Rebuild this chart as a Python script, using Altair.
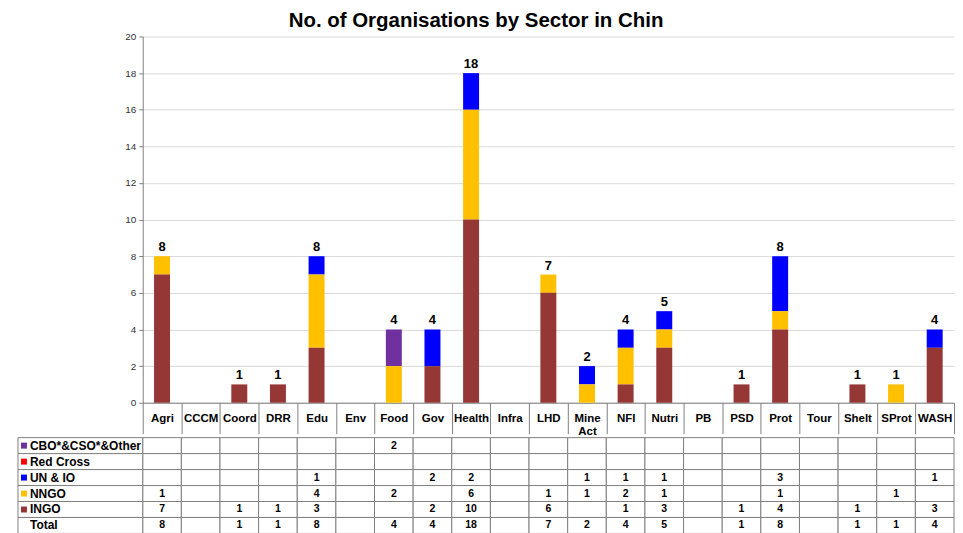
import altair as alt
import pandas as pd

categories = ["Agri", "CCCM", "Coord", "DRR", "Edu", "Env", "Food", "Gov", "Health", "Infra",
              "LHD", "Mine Act", "NFI", "Nutri", "PB", "PSD", "Prot", "Tour", "Shelt", "SProt", "WASH"]
series_names = ["CBO*&CSO*&Other", "Red Cross", "UN & IO", "NNGO", "INGO"]
series_colors = ["#7030A0", "#FF0000", "#0000FF", "#FFC000", "#953735"]

cbo =       [0, 0, 0, 0, 0, 0, 2, 0, 0, 0, 0, 0, 0, 0, 0, 0, 0, 0, 0, 0, 0]
red_cross = [0, 0, 0, 0, 0, 0, 0, 0, 0, 0, 0, 0, 0, 0, 0, 0, 0, 0, 0, 0, 0]
un_io =     [0, 0, 0, 0, 1, 0, 0, 2, 2, 0, 0, 1, 1, 1, 0, 0, 3, 0, 0, 0, 1]
nngo =      [1, 0, 0, 0, 4, 0, 2, 0, 6, 0, 1, 1, 2, 1, 0, 0, 1, 0, 0, 1, 0]
ingo =      [7, 0, 1, 1, 3, 0, 0, 2, 10, 0, 6, 0, 1, 3, 0, 1, 4, 0, 1, 0, 3]
totals =    [8, 0, 1, 1, 8, 0, 4, 4, 18, 0, 7, 2, 4, 5, 0, 1, 8, 0, 1, 1, 4]

y_ticks = [0, 2, 4, 6, 8, 10, 12, 14, 16, 18, 20]
table_rows = series_names + ["Total"]

FONT = "Liberation Sans"
GRID = "#808080"

series_values = {"CBO*&CSO*&Other": cbo, "Red Cross": red_cross, "UN & IO": un_io,
                 "NNGO": nngo, "INGO": ingo}
stack_rank = {"INGO": 0, "NNGO": 1, "UN & IO": 2, "Red Cross": 3, "CBO*&CSO*&Other": 4}

bar_rows = []
for s in series_names:
    for c, v in zip(categories, series_values[s]):
        if v > 0:
            bar_rows.append({"cat": c, "series": s, "value": v, "rank": stack_rank[s]})
bars_df = pd.DataFrame(bar_rows)

tot_df = pd.DataFrame({"cat": categories, "total": totals})
tot_df = tot_df[tot_df["total"] > 0]

cell_rows = []
for r in table_rows:
    vals = totals if r == "Total" else series_values[r]
    for c, v in zip(categories, vals):
        cell_rows.append({"cat": c, "row": r, "txt": str(v) if v > 0 else ""})
cells_df = pd.DataFrame(cell_rows)
label_df = pd.DataFrame({"row": table_rows})
square_df = pd.DataFrame({"row": series_names})

xscale = alt.Scale(domain=categories, paddingInner=0, paddingOuter=0)
yscale = alt.Scale(domain=[0, 20])
color_scale = alt.Scale(domain=series_names, range=series_colors)

W = 813
H = 367

x_axis = alt.Axis(
    title=None, tickBand="extent", tickSize=31, tickColor=GRID, domainColor=GRID,
    labelPadding=-15.5, labelBaseline="middle", labelAngle=0, labelOverlap=False,
    labelFont=FONT, labelFontSize=11.5, labelFontWeight="bold", labelColor="black",
    labelLineHeight=13,
    labelExpr="datum.label == 'Mine Act' ? ['Mine', 'Act'] : datum.label",
)
y_axis = alt.Axis(
    title=None, values=y_ticks, tickCount=len(y_ticks) + 1, tickSize=4, tickColor=GRID,
    domainColor=GRID, gridColor="#d9d9d9", labelFont=FONT, labelFontSize=10,
    labelColor="#333333", labelPadding=3, labelOverlap=False,
)

bars = alt.Chart(bars_df).mark_bar(size=16).encode(
    x=alt.X("cat:N", scale=xscale, sort=categories, axis=x_axis),
    y=alt.Y("value:Q", stack="zero", scale=yscale, axis=y_axis),
    color=alt.Color("series:N", scale=color_scale, legend=None),
    order=alt.Order("rank:Q"),
)
labels = alt.Chart(tot_df).mark_text(
    dy=-2, baseline="bottom", font=FONT, fontSize=13, fontWeight="bold", color="black"
).encode(
    x=alt.X("cat:N", scale=xscale, sort=categories, axis=x_axis),
    y=alt.Y("total:Q", scale=yscale, axis=y_axis),
    text="total:Q",
)
top = alt.layer(bars, labels).properties(width=W, height=H)

yrow = alt.Y("row:N", sort=table_rows, scale=alt.Scale(domain=table_rows, paddingInner=0, paddingOuter=0), axis=None)
xcat = alt.X("cat:N", scale=xscale, sort=categories, axis=None)

cell_rect = alt.Chart(cells_df).mark_rect(fill="white", stroke=GRID, strokeWidth=1).encode(x=xcat, y=yrow)
cell_txt = alt.Chart(cells_df).mark_text(
    font=FONT, fontSize=10.5, fontWeight="bold", color="black", baseline="middle"
).encode(x=xcat, y=yrow, text="txt:N")
lab_rect = alt.Chart(label_df).mark_rect(fill="white", stroke=GRID, strokeWidth=1).encode(
    x=alt.value(-125), x2=alt.value(0), y=yrow)
lab_txt = alt.Chart(label_df).mark_text(
    font=FONT, fontSize=12, fontWeight="bold", color="black", align="left", baseline="middle"
).encode(x=alt.value(-113), y=yrow, text="row:N")
lab_sq = alt.Chart(square_df).mark_square(size=36, opacity=1).encode(
    x=alt.value(-119), y=yrow,
    color=alt.Color("row:N", scale=color_scale, legend=None),
)
table = alt.layer(cell_rect, cell_txt, lab_rect, lab_txt, lab_sq).properties(width=W, height=96)

chart = alt.vconcat(top, table, spacing=0).properties(
    title=alt.TitleParams(
        "No. of Organisations by Sector in Chin", font=FONT, fontSize=20.5, fontWeight="bold",
        color="black", anchor="middle", dx=-10, offset=0,
    ),
    padding={"left": 9, "top": 2, "right": 0, "bottom": 0},
    background="white",
).configure_view(stroke=None)

chart.save("out.html", embed_options={"renderer": "svg", "actions": False})
